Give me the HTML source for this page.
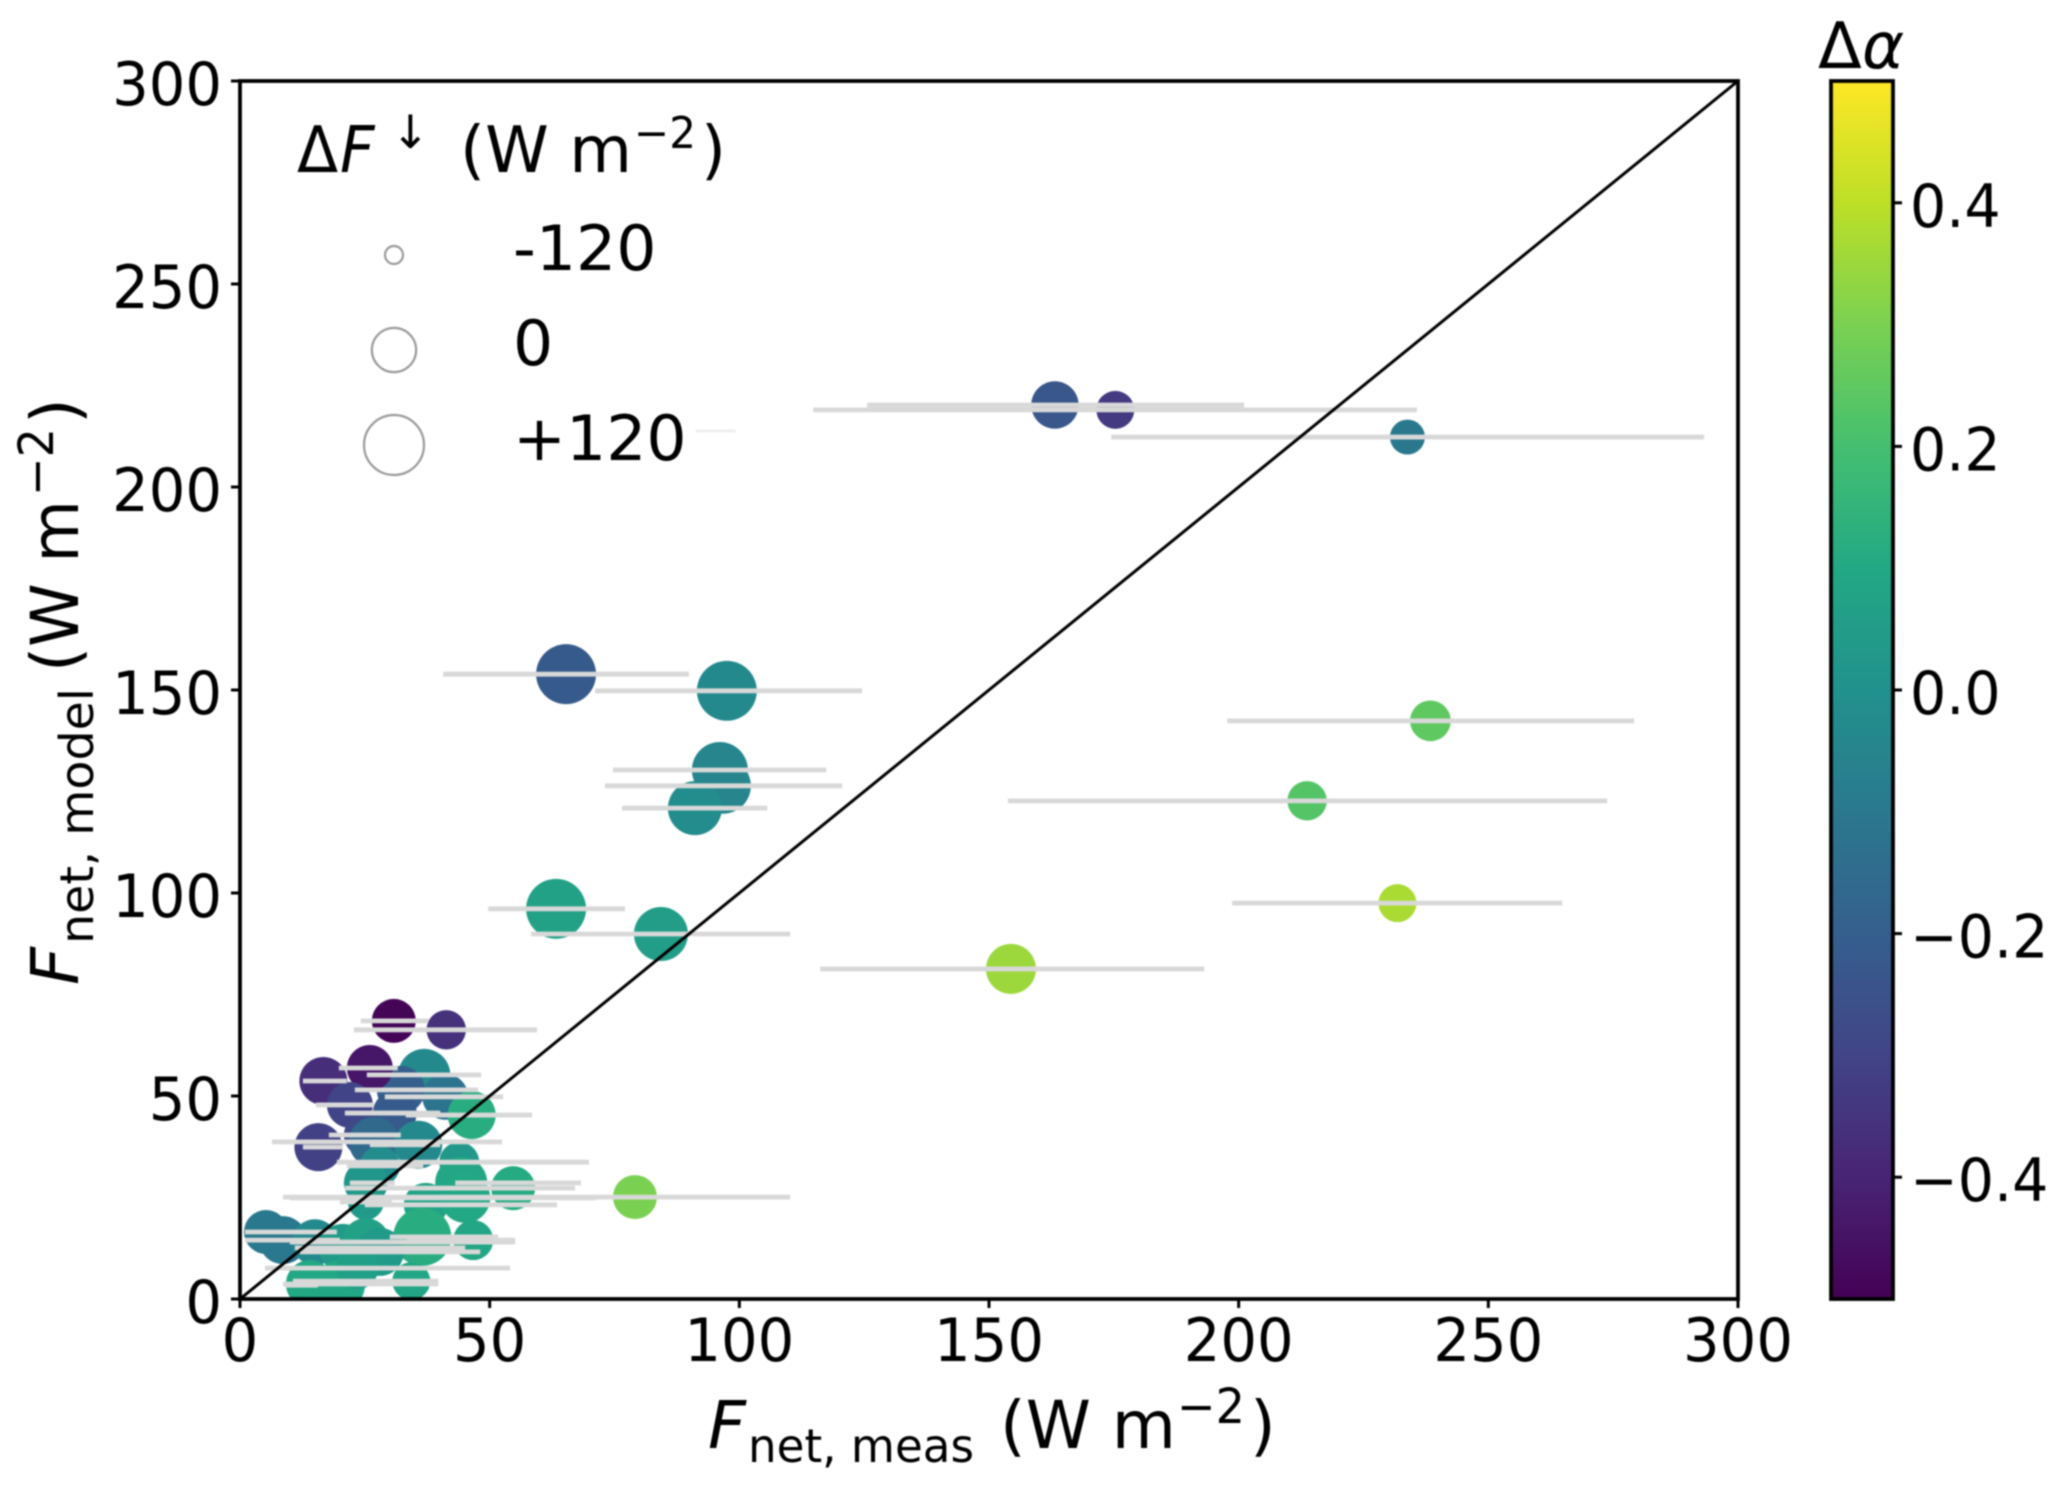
<!DOCTYPE html>
<html lang="en">
<head>
<meta charset="utf-8">
<title>Modelled versus measured net flux</title>
<style>
  html, body { margin: 0; padding: 0; background: #fff; }
  #chart { display: block; filter: blur(0.7px); }
  text { font-family: "DejaVu Sans", "Liberation Sans", sans-serif; fill: #000; }
  .it { font-style: italic; }
</style>
</head>
<body>
<svg id="chart" xmlns="http://www.w3.org/2000/svg" width="2067" height="1486" viewBox="0 0 2067 1486">
  <rect x="0" y="0" width="2067" height="1486" fill="#fff"/>
  <defs>
    <clipPath id="plot-clip"><rect x="240" y="81" width="1498" height="1218"/></clipPath>
    <linearGradient id="viridis-gradient" x1="0" y1="1" x2="0" y2="0"></linearGradient>
  </defs>
  <g id="marks" clip-path="url(#plot-clip)"></g>
  <g id="axes"></g>
  <g id="legend">
    <text transform="translate(297,172) scale(.94,1)" font-size="64">Δ</text>
    <text class="it" transform="translate(340,172) scale(.94,1)" font-size="64">F</text>
    <text x="391" y="148" font-size="46">↓</text>
    <text x="460" y="172" font-size="64" textLength="172" lengthAdjust="spacingAndGlyphs">(W m</text>
    <text x="634" y="148" font-size="44" textLength="62" lengthAdjust="spacingAndGlyphs">−2</text>
    <text x="701" y="172" font-size="64">)</text>
  </g>
  <g id="labels">
    <text class="it" x="708" y="1448" font-size="66">F</text>
    <text x="748" y="1462" font-size="46" textLength="226" lengthAdjust="spacingAndGlyphs">net, meas</text>
    <text x="1000" y="1448" font-size="66" textLength="176" lengthAdjust="spacingAndGlyphs">(W m</text>
    <text x="1177" y="1423" font-size="48" textLength="68" lengthAdjust="spacingAndGlyphs">−2</text>
    <text x="1250" y="1448" font-size="66">)</text>

    <text class="it" transform="translate(78,985) rotate(-90)" font-size="66">F</text>
    <text transform="translate(93,944) rotate(-90)" font-size="46" textLength="256" lengthAdjust="spacingAndGlyphs">net, model</text>
    <text transform="translate(78,672) rotate(-90)" font-size="66" textLength="172" lengthAdjust="spacingAndGlyphs">(W m</text>
    <text transform="translate(53,496) rotate(-90)" font-size="48" textLength="68" lengthAdjust="spacingAndGlyphs">−2</text>
    <text transform="translate(78,424) rotate(-90)" font-size="66">)</text>

    <text x="1818" y="68" font-size="64">Δ</text>
    <text class="it" x="1862" y="68" font-size="64">α</text>
  </g>
</svg>
<script>
// Measured vs modelled net flux (W m-2)
const pointX = [163.2,175.3,233.8,97.5,238.4,213.7,231.8,154.4,96.1,96.7,91.1,65.3,63.3,84.3,30.8,41.3,16.7,36.9,41.1,32.2,26.0,22.0,31.0,46.4,15.7,25.2,26.8,35.7,43.9,28.0,44.3,54.7,25.2,25.2,37.2,45.1,79.1,5.2,8.6,15.0,20.6,25.2,36.5,46.7,28.0,14.0,20.0,23.5,34.3];
const pointY = [220.2,219.0,212.3,149.8,142.4,122.7,97.5,81.3,130.3,126.4,120.9,153.9,96.1,89.9,68.5,66.3,53.7,55.2,49.8,51.5,56.9,47.8,45.8,45.3,37.4,40.4,38.7,38.0,33.7,32.8,28.6,27.3,28.6,23.9,23.2,24.9,25.1,16.5,14.5,14.0,12.6,14.0,15.3,14.5,11.6,3.7,3.4,7.6,4.4];
const errLow = [125.6,114.8,174.5,71.1,197.7,153.8,198.7,116.2,74.7,73.1,76.5,40.7,49.7,58.3,24.2,22.8,12.6,25.4,29.0,23.0,19.8,15.2,21.0,33.2,12.6,17.8,6.4,26.0,19.4,21.4,43.1,21.0,22.0,20.0,25.0,10.0,8.6,1.0,1.0,10.0,11.0,10.0,30.0,33.4,12.0,8.6,9.0,5.0,10.6];
const errHigh = [201.1,235.7,293.2,124.6,279.2,273.8,264.8,193.1,117.4,120.6,105.6,89.9,77.1,110.2,37.7,59.5,21.4,48.3,52.7,47.7,31.6,26.8,40.1,58.5,20.6,32.2,52.5,40.1,69.9,36.7,68.3,67.1,31.0,30.4,63.5,71.3,110.2,19.4,20.0,55.1,45.1,44.1,51.7,55.1,48.1,39.7,15.6,54.1,39.7];
const deltaF = [21,-38,-54,120,-22,-30,-38,40,86,86,70,120,120,70,-2,-30,25,55,11,25,11,11,-2,25,25,-2,40,25,-26,-26,55,-2,-2,-49,-2,40,-2,-2,25,11,25,25,103,-26,25,25,40,-14,-38];
const deltaAlpha = [-0.23,-0.33,-0.1,-0.03,0.25,0.23,0.37,0.35,-0.05,-0.05,-0.02,-0.22,0.07,0.05,-0.49,-0.36,-0.37,-0.03,-0.12,-0.2,-0.44,-0.3,-0.22,0.12,-0.31,-0.28,-0.16,-0.03,0.03,-0.02,0.09,0.11,0.02,0.04,0.08,0.1,0.3,-0.1,-0.1,-0.03,0.04,0.07,0.12,0.09,0.04,0.1,0.1,0.06,0.09];
const faintErrLow = [91.3];
const faintErrHigh = [99.3];
const faintErrY = [213.8];
const xTicks = [0,50,100,150,200,250,300];
const yTicks = [0,50,100,150,200,250,300];
const colorTicks = [-0.4,-0.2,0,0.2,0.4];
const legendDeltaF = [-120,0,120];
const legendLabels = ['-120','0','+120'];
const axisDomain = [0,300];
const colorDomain = [-0.5,0.5];
const viridisStops = ['#440154','#482475','#414487','#355f8d','#2a788e','#21918c','#22a884','#44bf70','#7ad151','#bddf26','#fde725'];

const SVG_NS = 'http://www.w3.org/2000/svg';
const plotLeft = 240, plotRight = 1738, plotTop = 81, plotBottom = 1299;
const barLeft = 1831, barRight = 1893;

function xScale(v) { return plotLeft + (v - axisDomain[0]) / (axisDomain[1] - axisDomain[0]) * (plotRight - plotLeft); }
function yScale(v) { return plotBottom - (v - axisDomain[0]) / (axisDomain[1] - axisDomain[0]) * (plotBottom - plotTop); }
function colorAxis(v) { return plotBottom - (v - colorDomain[0]) / (colorDomain[1] - colorDomain[0]) * (plotBottom - plotTop); }
function radiusScale(v) { return Math.sqrt(Math.max(16, 490 + 3.41 * v)); }
function colorScale(v) {
  const t = Math.min(1, Math.max(0, (v - colorDomain[0]) / (colorDomain[1] - colorDomain[0]))) * (viridisStops.length - 1);
  const i = Math.min(viridisStops.length - 2, Math.floor(t));
  const f = t - i;
  const a = parseInt(viridisStops[i].slice(1), 16);
  const b = parseInt(viridisStops[i + 1].slice(1), 16);
  const mix = function (s) {
    const ca = (a >> s) & 255;
    const cb = (b >> s) & 255;
    return Math.round(ca + (cb - ca) * f);
  };
  return 'rgb(' + mix(16) + ',' + mix(8) + ',' + mix(0) + ')';
}
function make(tag, attrs, parent) {
  const node = document.createElementNS(SVG_NS, tag);
  for (const k in attrs) node.setAttribute(k, attrs[k]);
  parent.appendChild(node);
  return node;
}

const marks = document.getElementById('marks');
const axes = document.getElementById('axes');
const legend = document.getElementById('legend');
const gradient = document.getElementById('viridis-gradient');

viridisStops.forEach(function (c, i) {
  make('stop', { offset: (i / (viridisStops.length - 1)), 'stop-color': c }, gradient);
});

// scatter points
pointX.forEach(function (x, i) {
  const dot = make('circle', { cx: xScale(x), cy: yScale(pointY[i]), r: radiusScale(deltaF[i]), fill: colorScale(deltaAlpha[i]) }, marks);
  
  
});

// horizontal error bars
pointX.forEach(function (x, i) {
  const bar = make('line', { x1: xScale(errLow[i]), x2: xScale(errHigh[i]), y1: yScale(pointY[i]), y2: yScale(pointY[i]), stroke: '#d8d8d8', 'stroke-width': 4.8 }, marks);
  
  
});
faintErrY.forEach(function (y, i) {
  const faint = make('line', { x1: xScale(faintErrLow[i]), x2: xScale(faintErrHigh[i]), y1: yScale(y), y2: yScale(y), stroke: '#efefef', 'stroke-width': 3 }, marks);
  
  
});

// one-to-one line
const identity = make('line', { x1: xScale(axisDomain[0]), y1: yScale(axisDomain[0]), x2: xScale(axisDomain[1]), y2: yScale(axisDomain[1]), stroke: '#000', 'stroke-width': 3 }, marks);



// plot frame
const frame = make('rect', { x: plotLeft, y: plotTop, width: plotRight - plotLeft, height: plotBottom - plotTop, fill: 'none', stroke: '#000', 'stroke-width': 3.8 }, axes);



// x ticks
xTicks.forEach(function (v) {
  const tick = make('line', { x1: xScale(v), x2: xScale(v), y1: plotBottom, y2: plotBottom + 9, stroke: '#000', 'stroke-width': 3 }, axes);
  
  
  const label = make('text', { transform: 'translate(' + xScale(v) + ',1361) scale(.96,1)', 'font-size': 60, 'text-anchor': 'middle' }, axes);
  label.textContent = String(v);
  
  
});

// y ticks
yTicks.forEach(function (v) {
  const tick = make('line', { x1: plotLeft - 9, x2: plotLeft, y1: yScale(v), y2: yScale(v), stroke: '#000', 'stroke-width': 3 }, axes);
  
  
  const label = make('text', { transform: 'translate(222,' + (yScale(v) + 24) + ') scale(.96,1)', 'font-size': 60, 'text-anchor': 'end' }, axes);
  label.textContent = String(v);
  
  
});

// colour bar
const colorBar = make('rect', { x: barLeft, y: plotTop, width: barRight - barLeft, height: plotBottom - plotTop, fill: 'url(#viridis-gradient)', stroke: '#000', 'stroke-width': 3.8 }, axes);


colorTicks.forEach(function (v) {
  const tick = make('line', { x1: barRight, x2: barRight + 9, y1: colorAxis(v), y2: colorAxis(v), stroke: '#000', 'stroke-width': 3 }, axes);
  
  
  const text = (v < 0 ? '\u2212' : '') + Math.abs(v).toFixed(1);
  const label = make('text', { transform: 'translate(1910,' + (colorAxis(v) + 24) + ') scale(.95,1)', 'font-size': 60 }, axes);
  label.textContent = text;
  
  
});

// size legend
const legendRowY = [255, 350, 445];
const legendBaseY = [270, 365, 460];
legendDeltaF.forEach(function (v, i) {
  const ring = make('circle', { cx: 394, cy: legendRowY[i], r: radiusScale(v), fill: '#fff', stroke: '#9a9a9a', 'stroke-width': 2.2 }, legend);
  
  
  const label = make('text', { transform: 'translate(513,' + legendBaseY[i] + ') scale(1.02,1)', 'font-size': 62 }, legend);
  label.textContent = legendLabels[i];
  
  
});
</script>
</body>
</html>
